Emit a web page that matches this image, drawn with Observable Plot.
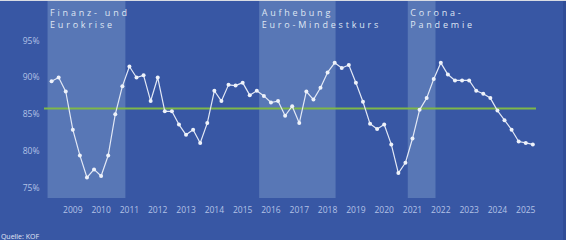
<!DOCTYPE html>
<html><head><meta charset="utf-8">
<script src="https://cdn.jsdelivr.net/npm/d3@7"></script>
<script src="https://cdn.jsdelivr.net/npm/@observablehq/plot@0.6"></script>
<style>
body{margin:0;background:#3857a4;}
.bandlabel text{letter-spacing:2.8px;}
</style></head><body><div id="chart"></div>
<script>
// Kapazitätsauslastung (quarterly, %), from Q2 2008
const startYear = 2008, startQuarter = 2;
const values = [
  89.5, 90.0, 88.1, 82.9, 79.4, 76.4, 77.5, 76.6, 79.4, 85.0,
  88.8, 91.5, 90.0, 90.3, 86.8, 90.0, 85.4, 85.4, 83.6, 82.2,
  82.9, 81.1, 83.8, 88.2, 86.8, 89.0, 88.9, 89.3, 87.6, 88.2,
  87.5, 86.6, 86.8, 84.8, 86.1, 83.8, 88.1, 87.0, 88.6, 90.7,
  92.0, 91.3, 91.7, 89.3, 86.7, 83.7, 83.0, 83.6, 80.9, 77.0,
  78.4, 81.7, 85.6, 87.2, 89.8, 92.0, 90.4, 89.6, 89.6, 89.6,
  88.2, 87.8, 87.2, 85.5, 84.2, 82.9, 81.3, 81.1, 80.9
];
const average = 85.8;
const years = [2009,2010,2011,2012,2013,2014,2015,2016,2017,2018,2019,2020,2021,2022,2023,2024,2025];
const yTicks = [75, 80, 85, 90, 95];
const bandLabels = ["Finanz- und\nEurokrise", "Aufhebung\nEuro-Mindestkurs", "Corona-\nPandemie"];
const bandStart = [2008.125, 2015.6, 2020.85];
const bandEnd = [2010.875, 2018.3, 2021.83];
const source = "Quelle: KOF";

const data = values.map((v, i) => ({t: startYear + (startQuarter - 1 + i) / 4, v}));
const bands = bandLabels.map((label, i) => ({label, x1: bandStart[i], x2: bandEnd[i]}));

const plot = Plot.plot({
  width: 566, height: 240,
  marginLeft: 44, marginRight: 30, marginTop: 0, marginBottom: 42,
  style: {background: "#3857a4", color: "#b3c2e6", fontFamily: "'Open Sans', sans-serif", fontSize: "8.5px"},
  x: {domain: [2008, 2025.38], ticks: years, tickFormat: d => String(d), tickSize: 0, tickPadding: 8, label: null},
  y: {domain: [73.54, 100.48], ticks: yTicks, tickFormat: d => d + "%", tickSize: 0, tickPadding: 5, label: null},
  marks: [
    Plot.rect(bands, {x1: "x1", x2: "x2", fill: "#5877b6"}),
    Plot.text(bands, {x: "x1", text: "label", frameAnchor: "top", textAnchor: "start", lineAnchor: "top",
      dx: 2, dy: 6.7, fill: "#dfe6f3", fontSize: 9, lineHeight: 1.37, className: "bandlabel"}),
    Plot.ruleY([average], {stroke: "#7fb848", strokeWidth: 2}),
    Plot.line(data, {x: "t", y: "v", stroke: "#e3e9f6", strokeWidth: 1.2}),
    Plot.dot(data, {x: "t", y: "v", r: 2, fill: "#eef2fa"})
  ]
});

const svg = d3.select(plot);
svg.append("text").attr("x", 20).attr("y", 238.5).attr("fill", "#e0e6f4")
  .attr("font-size", 7).attr("font-family", "'Open Sans', sans-serif").text(source);
svg.append("rect").attr("x", 0).attr("y", 0).attr("width", 566).attr("height", 1).attr("fill", "#d9dce3");
svg.append("rect").attr("x", 563).attr("y", 1).attr("width", 3).attr("height", 239).attr("fill", "#304d97");
document.getElementById("chart").append(plot);
</script></body></html>
